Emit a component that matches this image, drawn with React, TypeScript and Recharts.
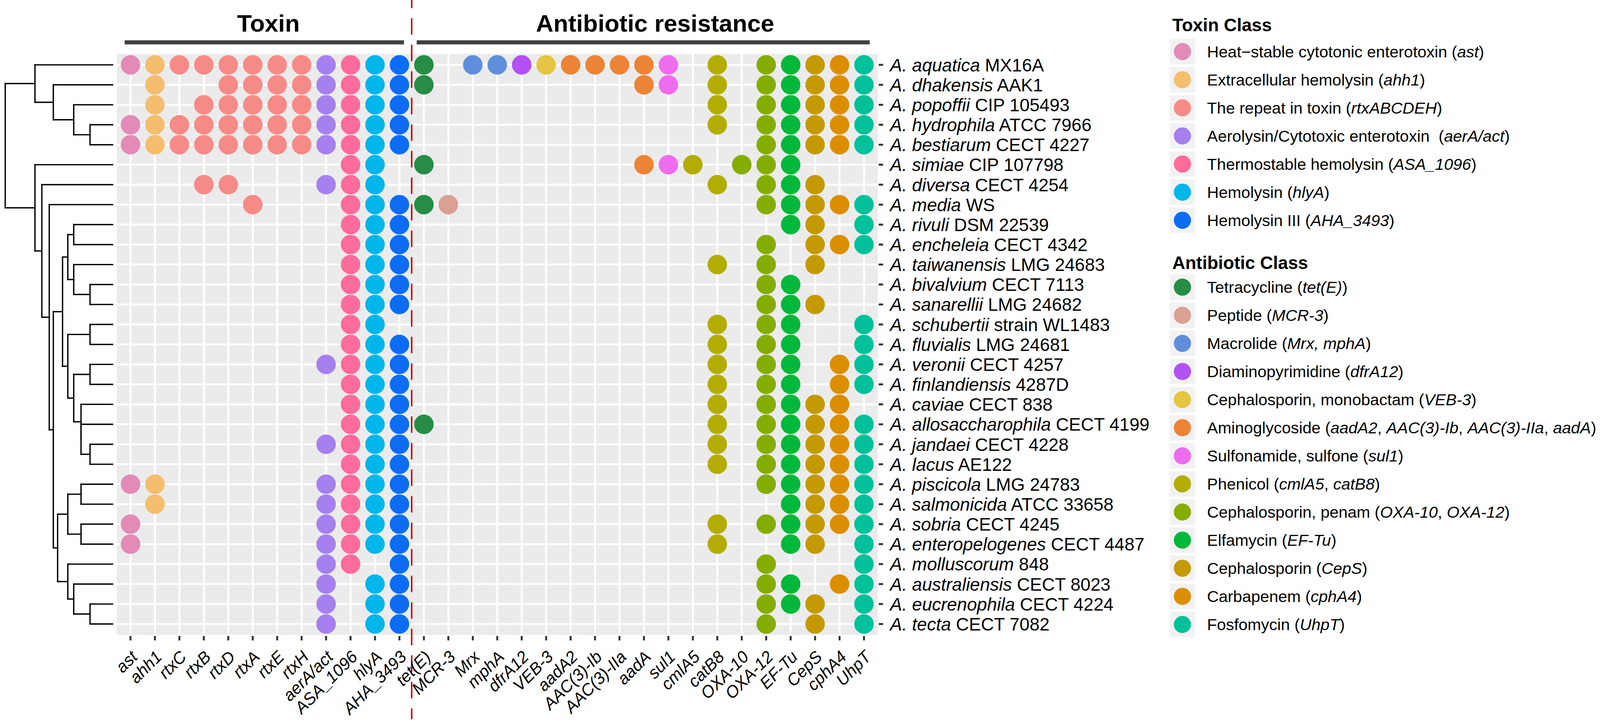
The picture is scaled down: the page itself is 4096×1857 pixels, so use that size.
import React from 'react'
import { ScatterChart, Scatter, XAxis, YAxis, CartesianGrid, ReferenceLine } from 'recharts'

const W = 4096
const H = 1857
const FONT = '"Liberation Sans", Arial, Helvetica, sans-serif'

// ---- columns ----
const TOXIN_GENES = ['ast', 'ahh1', 'rtxC', 'rtxB', 'rtxD', 'rtxA', 'rtxE', 'rtxH', 'aerA/act', 'ASA_1096', 'hlyA', 'AHA_3493']
const ANTIBIOTIC_GENES = [
  'tet(E)', 'MCR-3', 'Mrx', 'mphA', 'dfrA12', 'VEB-3', 'aadA2', 'AAC(3)-Ib', 'AAC(3)-IIa', 'aadA',
  'sul1', 'cmlA5', 'catB8', 'OXA-10', 'OXA-12', 'EF-Tu', 'CepS', 'cphA4', 'UhpT',
]
const GENES = [...TOXIN_GENES, ...ANTIBIOTIC_GENES]

// ---- rows ----
const SPECIES = [
  'A. aquatica', 'A. dhakensis', 'A. popoffii', 'A. hydrophila', 'A. bestiarum', 'A. simiae', 'A. diversa',
  'A. media', 'A. rivuli', 'A. encheleia', 'A. taiwanensis', 'A. bivalvium', 'A. sanarellii', 'A. schubertii',
  'A. fluvialis', 'A. veronii', 'A. finlandiensis', 'A. caviae', 'A. allosaccharophila', 'A. jandaei', 'A. lacus',
  'A. piscicola', 'A. salmonicida', 'A. sobria', 'A. enteropelogenes', 'A. molluscorum', 'A. australiensis',
  'A. eucrenophila', 'A. tecta',
]
const STRAIN_IDS = [
  'MX16A', 'AAK1', 'CIP 105493', 'ATCC 7966', 'CECT 4227', 'CIP 107798', 'CECT 4254', 'WS', 'DSM 22539',
  'CECT 4342', 'LMG 24683', 'CECT 7113', 'LMG 24682', 'strain WL1483', 'LMG 24681', 'CECT 4257', '4287D',
  'CECT 838', 'CECT 4199', 'CECT 4228', 'AE122', 'LMG 24783', 'ATCC 33658', 'CECT 4245', 'CECT 4487', '848',
  'CECT 8023', 'CECT 4224', 'CECT 7082',
]

// ---- presence ----
const ALL_TOX = TOXIN_GENES
const TOXIN_HITS: string[][] = [
  ALL_TOX,
  ['ahh1', 'rtxD', 'rtxA', 'rtxE', 'rtxH', 'aerA/act', 'ASA_1096', 'hlyA', 'AHA_3493'],
  ['ahh1', 'rtxB', 'rtxD', 'rtxA', 'rtxE', 'rtxH', 'aerA/act', 'ASA_1096', 'hlyA', 'AHA_3493'],
  ALL_TOX,
  ALL_TOX,
  ['ASA_1096', 'hlyA'],
  ['rtxB', 'rtxD', 'aerA/act', 'ASA_1096', 'hlyA'],
  ['rtxA', 'ASA_1096', 'hlyA', 'AHA_3493'],
  ['ASA_1096', 'hlyA', 'AHA_3493'],
  ['ASA_1096', 'hlyA', 'AHA_3493'],
  ['ASA_1096', 'hlyA', 'AHA_3493'],
  ['ASA_1096', 'hlyA', 'AHA_3493'],
  ['ASA_1096', 'hlyA', 'AHA_3493'],
  ['ASA_1096', 'hlyA'],
  ['ASA_1096', 'hlyA', 'AHA_3493'],
  ['aerA/act', 'ASA_1096', 'hlyA', 'AHA_3493'],
  ['ASA_1096', 'hlyA', 'AHA_3493'],
  ['ASA_1096', 'hlyA', 'AHA_3493'],
  ['ASA_1096', 'hlyA', 'AHA_3493'],
  ['aerA/act', 'ASA_1096', 'hlyA', 'AHA_3493'],
  ['ASA_1096', 'hlyA', 'AHA_3493'],
  ['ast', 'ahh1', 'aerA/act', 'ASA_1096', 'hlyA', 'AHA_3493'],
  ['ahh1', 'aerA/act', 'ASA_1096', 'hlyA', 'AHA_3493'],
  ['ast', 'aerA/act', 'ASA_1096', 'hlyA', 'AHA_3493'],
  ['ast', 'aerA/act', 'ASA_1096', 'hlyA', 'AHA_3493'],
  ['aerA/act', 'ASA_1096', 'AHA_3493'],
  ['aerA/act', 'hlyA', 'AHA_3493'],
  ['aerA/act', 'hlyA', 'AHA_3493'],
  ['aerA/act', 'hlyA', 'AHA_3493'],
]

const ANTIBIOTIC_HITS: string[][] = [
  ['tet(E)', 'Mrx', 'mphA', 'dfrA12', 'VEB-3', 'aadA2', 'AAC(3)-Ib', 'AAC(3)-IIa', 'aadA', 'sul1', 'catB8', 'OXA-12', 'EF-Tu', 'CepS', 'cphA4', 'UhpT'],
  ['tet(E)', 'aadA', 'sul1', 'catB8', 'OXA-12', 'EF-Tu', 'CepS', 'cphA4', 'UhpT'],
  ['catB8', 'OXA-12', 'EF-Tu', 'CepS', 'cphA4', 'UhpT'],
  ['catB8', 'OXA-12', 'EF-Tu', 'CepS', 'cphA4', 'UhpT'],
  ['OXA-12', 'EF-Tu', 'CepS', 'cphA4', 'UhpT'],
  ['tet(E)', 'aadA', 'sul1', 'cmlA5', 'OXA-10', 'OXA-12', 'EF-Tu'],
  ['catB8', 'OXA-12', 'EF-Tu', 'CepS'],
  ['tet(E)', 'MCR-3', 'OXA-12', 'EF-Tu', 'CepS', 'cphA4', 'UhpT'],
  ['EF-Tu', 'CepS', 'UhpT'],
  ['OXA-12', 'CepS', 'cphA4', 'UhpT'],
  ['catB8', 'OXA-12', 'CepS'],
  ['OXA-12', 'EF-Tu'],
  ['OXA-12', 'EF-Tu', 'CepS'],
  ['catB8', 'OXA-12', 'EF-Tu', 'UhpT'],
  ['catB8', 'OXA-12', 'EF-Tu', 'UhpT'],
  ['catB8', 'OXA-12', 'EF-Tu', 'cphA4', 'UhpT'],
  ['catB8', 'OXA-12', 'EF-Tu', 'cphA4', 'UhpT'],
  ['catB8', 'OXA-12', 'EF-Tu', 'CepS', 'cphA4'],
  ['tet(E)', 'catB8', 'OXA-12', 'EF-Tu', 'CepS', 'cphA4', 'UhpT'],
  ['catB8', 'OXA-12', 'EF-Tu', 'CepS', 'cphA4', 'UhpT'],
  ['catB8', 'OXA-12', 'EF-Tu', 'CepS', 'cphA4', 'UhpT'],
  ['OXA-12', 'EF-Tu', 'CepS', 'cphA4', 'UhpT'],
  ['EF-Tu', 'CepS', 'cphA4', 'UhpT'],
  ['catB8', 'OXA-12', 'EF-Tu', 'CepS', 'cphA4', 'UhpT'],
  ['catB8', 'EF-Tu', 'CepS', 'UhpT'],
  ['OXA-12', 'UhpT'],
  ['OXA-12', 'EF-Tu', 'cphA4', 'UhpT'],
  ['OXA-12', 'EF-Tu', 'CepS', 'UhpT'],
  ['OXA-12', 'CepS', 'UhpT'],
]

// ---- classes ----
type Seg = [string, boolean]

const TOXIN_CLASS_GENES = [['ast'], ['ahh1'], ['rtxA', 'rtxB', 'rtxC', 'rtxD', 'rtxE', 'rtxH'], ['aerA/act'], ['ASA_1096'], ['hlyA'], ['AHA_3493']]
const TOXIN_CLASS_LABELS: Seg[][] = [
  [['Heat\u2212stable cytotonic enterotoxin (', false], ['ast', true], [')', false]],
  [['Extracellular hemolysin (', false], ['ahh1', true], [')', false]],
  [['The repeat in toxin (', false], ['rtxABCDEH', true], [')', false]],
  [['Aerolysin/Cytotoxic enterotoxin \u00a0(', false], ['aerA/act', true], [')', false]],
  [['Thermostable hemolysin (', false], ['ASA_1096', true], [')', false]],
  [['Hemolysin (', false], ['hlyA', true], [')', false]],
  [['Hemolysin III (', false], ['AHA_3493', true], [')', false]],
]
const TOXIN_COLORS = ['#E18BB6', '#F3BE6E', '#F68A86', '#A680EE', '#FF6B9A', '#00B6EB', '#0C6DF4']

const ANTIBIOTIC_CLASS_GENES = [
  ['tet(E)'], ['MCR-3'], ['Mrx', 'mphA'], ['dfrA12'], ['VEB-3'], ['aadA2', 'AAC(3)-Ib', 'AAC(3)-IIa', 'aadA'],
  ['sul1'], ['cmlA5', 'catB8'], ['OXA-10', 'OXA-12'], ['EF-Tu'], ['CepS'], ['cphA4'], ['UhpT'],
]
const ANTIBIOTIC_CLASS_LABELS: Seg[][] = [
  [['Tetracycline (', false], ['tet(E)', true], [')', false]],
  [['Peptide (', false], ['MCR-3', true], [')', false]],
  [['Macrolide (', false], ['Mrx, mphA', true], [')', false]],
  [['Diaminopyrimidine (', false], ['dfrA12', true], [')', false]],
  [['Cephalosporin, monobactam (', false], ['VEB-3', true], [')', false]],
  [['Aminoglycoside (', false], ['aadA2', true], [', ', false], ['AAC(3)-Ib', true], [', ', false], ['AAC(3)-IIa', true], [', ', false], ['aadA', true], [')', false]],
  [['Sulfonamide, sulfone (', false], ['sul1', true], [')', false]],
  [['Phenicol (', false], ['cmlA5', true], [', ', false], ['catB8', true], [')', false]],
  [['Cephalosporin, penam (', false], ['OXA-10', true], [', ', false], ['OXA-12', true], [')', false]],
  [['Elfamycin (', false], ['EF-Tu', true], [')', false]],
  [['Cephalosporin (', false], ['CepS', true], [')', false]],
  [['Carbapenem (', false], ['cphA4', true], [')', false]],
  [['Fosfomycin (', false], ['UhpT', true], [')', false]],
]
const ANTIBIOTIC_COLORS = [
  '#268C46', '#D9A093', '#5F8FDC', '#B251F4', '#E4C642', '#EC8436', '#EE6DEE',
  '#B2AD00', '#85AD00', '#00B839', '#C49A00', '#DB8E00', '#00C19A',
]

// ---- dendrogram (depth 0 = root, 1 = tips) ----
type TreeNode = number | { d: number; c: TreeNode[] }
const TREE: TreeNode = {
  d: 0,
  c: [
    { d: 0.277, c: [0, { d: 0.448, c: [1, { d: 0.638, c: [2, { d: 0.79, c: [3, 4] }] }] }] },
    {
      d: 0.277,
      c: [5, { d: 0.341, c: [6, { d: 0.41, c: [7, { d: 0.448, c: [
        { d: 0.534, c: [
          { d: 0.583, c: [{ d: 0.638, c: [8, 9] }, { d: 0.638, c: [10, { d: 0.79, c: [11, 12] }] }] },
          { d: 0.583, c: [
            { d: 0.79, c: [13, 14] },
            { d: 0.638, c: [{ d: 0.79, c: [15, 16] }, { d: 0.706, c: [17, { d: 0.706, c: [18, { d: 0.79, c: [19, 20] }] }] }] },
          ] },
        ] },
        { d: 0.488, c: [
          { d: 0.583, c: [{ d: 0.706, c: [21, 22] }, { d: 0.706, c: [23, 24] }] },
          { d: 0.583, c: [25, { d: 0.638, c: [26, { d: 0.79, c: [27, 28] }] }] },
        ] },
      ] }] }] }],
    },
  ],
}

type Pt = { x: number; y: number }
function layoutTree(node: TreeNode, segs: [Pt, Pt][]): Pt {
  if (typeof node === 'number') return { x: 1, y: node }
  const kids = node.c.map((k) => layoutTree(k, segs))
  const ys = kids.map((k) => k.y)
  const y = ys.reduce((a, b) => a + b, 0) / ys.length
  segs.push([{ x: node.d, y: Math.min(...ys) }, { x: node.d, y: Math.max(...ys) }])
  kids.forEach((k) => {
    if (k.x !== node.d) segs.push([{ x: node.d, y: k.y }, { x: k.x, y: k.y }])
  })
  return { x: node.d, y }
}
const TREE_SEGMENTS: [Pt, Pt][] = []
layoutTree(TREE, TREE_SEGMENTS)

// ---- layout ----
const PLOT_LEFT = 296.5
const PLOT_RIGHT = 2249.4
const PLOT_TOP = 135.4
const PLOT_BOTTOM = 1629
const Y_AXIS_W = 900
const X_AXIS_H = 220

const X_TICKS = GENES.map((_, i) => i)
const Y_TICKS = SPECIES.map((_, i) => i)

function classPoints(hits: string[][], genes: string[]) {
  const pts: { x: number; y: number }[] = []
  hits.forEach((row, r) => {
    row.forEach((g) => {
      if (genes.includes(g)) pts.push({ x: GENES.indexOf(g), y: r })
    })
  })
  return pts
}

const dot = (color: string) => (props: any) => (
  <circle cx={props.cx} cy={props.cy} r={25} fill={color} />
)

const GeneTick = (props: any) => {
  const { x, y, payload } = props
  const bx = x + 20.6
  const by = y + 44.9
  return (
    <text
      x={bx}
      y={by}
      transform={`rotate(-45 ${bx} ${by})`}
      textAnchor="end"
      fontSize={43}
      fontStyle="italic"
      fontFamily={FONT}
      fill="#000"
    >
      {GENES[payload.value]}
    </text>
  )
}

const StrainTick = (props: any) => {
  const { x, y, payload } = props
  const i = payload.value
  return (
    <text x={x} y={y} dy="0.36em" textAnchor="start" fontSize={46} fontFamily={FONT} fill="#000">
      <tspan fontStyle="italic">{SPECIES[i]}</tspan>
      <tspan>{' ' + STRAIN_IDS[i]}</tspan>
    </text>
  )
}

function LegendBlock({ title, titleY, keyTop, labels, colors }: { title: string; titleY: number; keyTop: number; labels: Seg[][]; colors: string[] }) {
  return (
    <g fontFamily={FONT}>
      <text x={3001} y={titleY} fontSize={46} fontWeight="bold" fill="#000">
        {title}
      </text>
      {labels.map((segs, i) => {
        const top = keyTop + i * 72
        const cy = top + 32.5
        return (
          <g key={i}>
            <rect x={2994.5} y={top} width={65} height={65} fill="#F2F2F2" />
            <circle cx={3027} cy={cy} r={22} fill={colors[i]} />
            <text x={3090} y={cy + 14.5} fontSize={41.5} fill="#000" style={{ whiteSpace: 'pre' }}>
              {segs.map(([t, it], j) => (
                <tspan key={j} fontStyle={it ? 'italic' : 'normal'}>
                  {t}
                </tspan>
              ))}
            </text>
          </g>
        )
      })}
    </g>
  )
}

export default function App() {
  const toxinSeries = TOXIN_CLASS_GENES.map((genes, k) => ({ data: classPoints(TOXIN_HITS, genes), color: TOXIN_COLORS[k] }))
  const abSeries = ANTIBIOTIC_CLASS_GENES.map((genes, k) => ({ data: classPoints(ANTIBIOTIC_HITS, genes), color: ANTIBIOTIC_COLORS[k] }))
  const leafPoints = SPECIES.map((_, i) => ({ x: 1, y: i }))

  return (
    <div style={{ position: 'absolute', left: 0, top: 0, width: W, height: H, background: '#fff', overflow: 'hidden' }}>
      {/* dendrogram */}
      <div style={{ position: 'absolute', left: 0, top: 0 }}>
        <ScatterChart width={300} height={H} margin={{ top: PLOT_TOP, bottom: H - PLOT_BOTTOM, left: 13.4, right: 300 - 288.2 }}>
          <XAxis type="number" dataKey="x" domain={[0, 1]} hide />
          <YAxis type="number" dataKey="y" domain={[-0.6, 28.6]} reversed hide />
          <Scatter data={leafPoints} isAnimationActive={false} shape={() => <g />} />
          {TREE_SEGMENTS.map((s, i) => (
            <ReferenceLine key={i} segment={s} stroke="#000" strokeWidth={3.4} strokeLinecap="square" ifOverflow="visible" />
          ))}
        </ScatterChart>
      </div>

      {/* dot matrix */}
      <div style={{ position: 'absolute', left: 0, top: 0 }}>
        <ScatterChart
          width={W}
          height={H}
          margin={{ top: PLOT_TOP, left: PLOT_LEFT, right: W - PLOT_RIGHT - Y_AXIS_W, bottom: H - PLOT_BOTTOM - X_AXIS_H }}
        >
          <CartesianGrid fill="#EBEBEB" stroke="#FFFFFF" strokeWidth={5} />
          <XAxis
            type="number"
            dataKey="x"
            domain={[-0.6, 30.6]}
            ticks={X_TICKS}
            interval={0}
            height={X_AXIS_H}
            tickSize={11.3}
            tickMargin={0}
            axisLine={false}
            tickLine={{ stroke: '#333333', strokeWidth: 5 }}
            tick={GeneTick}
          />
          <YAxis
            type="number"
            dataKey="y"
            domain={[-0.6, 28.6]}
            reversed
            orientation="right"
            ticks={Y_TICKS}
            interval={0}
            width={Y_AXIS_W}
            tickSize={11.3}
            tickMargin={17.9}
            axisLine={false}
            tickLine={{ stroke: '#333333', strokeWidth: 5 }}
            tick={StrainTick}
          />
          {toxinSeries.map((s, k) => (
            <Scatter key={'t' + k} data={s.data} fill={s.color} isAnimationActive={false} shape={dot(s.color)} />
          ))}
          {abSeries.map((s, k) => (
            <Scatter key={'a' + k} data={s.data} fill={s.color} isAnimationActive={false} shape={dot(s.color)} />
          ))}
          <ReferenceLine
            segment={[{ x: -0.239, y: -1.126 }, { x: 11.186, y: -1.126 }]}
            stroke="#404040"
            strokeWidth={10.6}
            ifOverflow="visible"
          />
          <ReferenceLine
            segment={[{ x: 11.705, y: -1.126 }, { x: 30.234, y: -1.126 }]}
            stroke="#404040"
            strokeWidth={10.6}
            ifOverflow="visible"
          />
          <ReferenceLine
            segment={[{ x: 11.5, y: -3.666 }, { x: 11.5, y: 32.77 }]}
            stroke="#CD0000"
            strokeWidth={3.8}
            strokeDasharray="42.3 25.7"
            ifOverflow="visible"
          />
        </ScatterChart>
      </div>

      {/* headers and legends */}
      <svg width={W} height={H} style={{ position: 'absolute', left: 0, top: 0, pointerEvents: 'none' }}>
        <text x={687} y={80.8} textAnchor="middle" fontSize={62} fontWeight="bold" fontFamily={FONT} fill="#000">
          Toxin
        </text>
        <text x={1677} y={80.8} textAnchor="middle" fontSize={62} fontWeight="bold" fontFamily={FONT} fill="#000">
          Antibiotic resistance
        </text>
        <LegendBlock title="Toxin Class" titleY={80} keyTop={99.7} labels={TOXIN_CLASS_LABELS} colors={TOXIN_COLORS} />
        <LegendBlock title="Antibiotic Class" titleY={689} keyTop={703} labels={ANTIBIOTIC_CLASS_LABELS} colors={ANTIBIOTIC_COLORS} />
      </svg>
    </div>
  )
}
